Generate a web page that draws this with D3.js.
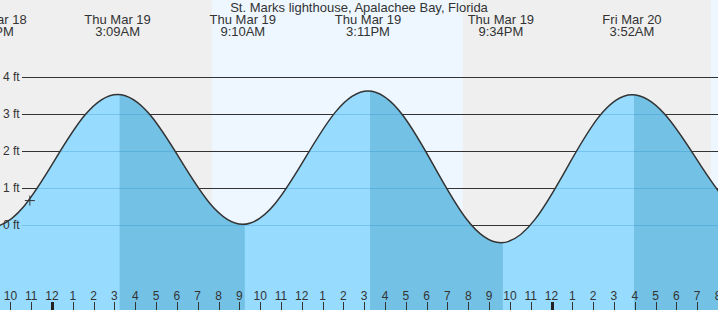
<!DOCTYPE html>
<html>
<head>
<meta charset="utf-8">
<script src="https://cdn.jsdelivr.net/npm/d3@7"></script>
<style>
  html, body { margin: 0; padding: 0; background: #efefef; }
  svg { display: block; font-family: "Liberation Sans", Arial, sans-serif; }
</style>
</head>
<body>
<svg id="chart" width="718" height="310"></svg>
<script>
// ---- data ----
const title = "St. Marks lighthouse, Apalachee Bay, Florida";
const tideTimes = ["2026-03-18T21:05", "2026-03-19T03:09", "2026-03-19T09:10", "2026-03-19T15:11",
                   "2026-03-19T21:34", "2026-03-20T03:52", "2026-03-20T10:00"];
const tideHeights = [-0.05, 3.53, 0.02, 3.62, -0.48, 3.52, 0.11];
const tideTypes = ["L", "H", "L", "H", "L", "H", "L"];
const dayStarts = ["2026-03-19T07:41", "2026-03-20T07:40"];
const dayEnds   = ["2026-03-19T19:44", "2026-03-20T19:45"];
const nowTime = "2026-03-18T22:56";
const nowHeight = 0.66;
const yTicks = [0, 1, 2, 3, 4];
const domainStart = "2026-03-18T21:30";
const domainEnd = "2026-03-20T08:00";

// ---- setup ----
const W = 718, H = 310;
const parse = s => new Date(s + ":00Z");
const svg = d3.select("#chart");
const x = d3.scaleUtc().domain([parse(domainStart), parse(domainEnd)]).range([0, W]);
const y = d3.scaleLinear().domain([0, 4]).range([225, 77]);

const pts = tideTimes.map((t, i) => ({ t: parse(t), h: tideHeights[i], type: tideTypes[i] }));

// smooth curve with flat tangents at each extreme (tide-like S shape)
function tideCurve(context) {
  const a = 0.365;
  return {
    areaStart() { this._line = 0; },
    areaEnd() { this._line = NaN; },
    lineStart() { this._point = 0; },
    lineEnd() {
      if (this._line || (this._line !== 0 && this._point === 1)) context.closePath();
      this._line = 1 - this._line;
    },
    point(px, py) {
      px = +px; py = +py;
      if (this._point === 0) {
        this._point = 1;
        if (this._line) context.lineTo(px, py); else context.moveTo(px, py);
      } else {
        this._point = 2;
        const dx = px - this._x0;
        context.bezierCurveTo(this._x0 + dx * a, this._y0, this._x0 + dx * (1 - a), py, px, py);
      }
      this._x0 = px; this._y0 = py;
    }
  };
}

// backgrounds
svg.append("rect").attr("width", W).attr("height", H).attr("fill", "#efefef");
svg.selectAll("rect.day").data(dayStarts).enter().append("rect")
  .attr("class", "day")
  .attr("x", (d) => x(parse(d)))
  .attr("width", (d, i) => x(parse(dayEnds[i])) - x(parse(d)))
  .attr("y", 0).attr("height", H)
  .attr("fill", "#eef7ff");

// grid lines
svg.selectAll("line.grid").data(yTicks).enter().append("line")
  .attr("x1", 22).attr("x2", W)
  .attr("y1", d => Math.round(y(d)) + 0.5).attr("y2", d => Math.round(y(d)) + 0.5)
  .attr("stroke", "#333").attr("stroke-width", 1);

// water
const area = d3.area().curve(tideCurve)
  .x(d => x(d.t)).y0(H).y1(d => y(d.h));
const line = d3.line().curve(tideCurve)
  .x(d => x(d.t)).y(d => y(d.h));

svg.append("clipPath").attr("id", "waterclip")
  .append("path").attr("d", area(pts));

svg.append("path").attr("d", area(pts)).attr("fill", "#97dcff");

// falling tide shading (high -> next low)
const falling = [];
pts.forEach((p, i) => { if (p.type === "H" && pts[i + 1]) falling.push([p.t, pts[i + 1].t]); });
const wg = svg.append("g").attr("clip-path", "url(#waterclip)");
wg.selectAll("rect").data(falling).enter().append("rect")
  .attr("x", d => x(d[0]) + 2).attr("width", d => x(d[1]) - x(d[0]))
  .attr("y", 0).attr("height", H)
  .attr("fill", "#73c2e6");
wg.selectAll("line").data(yTicks).enter().append("line")
  .attr("x1", 22).attr("x2", W)
  .attr("y1", d => Math.round(y(d)) + 0.5).attr("y2", d => Math.round(y(d)) + 0.5)
  .attr("stroke", "rgba(40,140,200,0.3)").attr("stroke-width", 1);

// curve
svg.append("path").attr("d", line(pts)).attr("fill", "none")
  .attr("stroke", "#333").attr("stroke-width", 1.5);

// current-time marker
const nx = x(parse(nowTime)), ny = y(nowHeight);
svg.append("path").attr("d", `M${nx - 5},${ny}H${nx + 5}M${nx},${ny - 5}V${ny + 5}`)
  .attr("stroke", "#333").attr("stroke-width", 1);

// y labels
svg.selectAll("text.ylab").data(yTicks).enter().append("text")
  .attr("x", 3).attr("y", d => y(d)).attr("dy", "0.35em")
  .attr("font-size", 12).attr("fill", "#333")
  .text(d => d + " ft");

// header labels
const fDay = d3.utcFormat("%a %b %-d");
const fTime = d3.utcFormat("%-I:%M%p");
const hdr = svg.selectAll("g.hdr").data(pts).enter().append("g")
  .attr("transform", d => `translate(${x(d.t)},0)`);
hdr.append("text").attr("y", 24).attr("text-anchor", "middle")
  .attr("font-size", 13).attr("fill", "#333").text(d => fDay(d.t));
hdr.append("text").attr("y", 36).attr("text-anchor", "middle")
  .attr("font-size", 13).attr("fill", "#333").text(d => fTime(d.t));

// title
svg.append("text").attr("x", 359).attr("y", 12).attr("text-anchor", "middle")
  .attr("font-size", 13).attr("fill", "#333").text(title);

// bottom hour axis
const hours = x.ticks(d3.utcHour.every(1));
const isMid = d => d.getUTCHours() === 0;
svg.selectAll("line.tick").data(hours).enter().append("line")
  .attr("x1", d => Math.round(x(d)) + 0.5).attr("x2", d => Math.round(x(d)) + 0.5)
  .attr("y1", 302).attr("y2", H)
  .attr("stroke", d => isMid(d) ? "#222" : "#333")
  .attr("stroke-width", d => isMid(d) ? 3 : 1);
svg.selectAll("text.hour").data(hours).enter().append("text")
  .attr("x", d => x(d)).attr("y", 300).attr("text-anchor", "middle")
  .attr("font-size", 12).attr("fill", "#333")
  .text(d => { const h = d.getUTCHours() % 12; return h === 0 ? 12 : h; });
</script>
</body>
</html>
